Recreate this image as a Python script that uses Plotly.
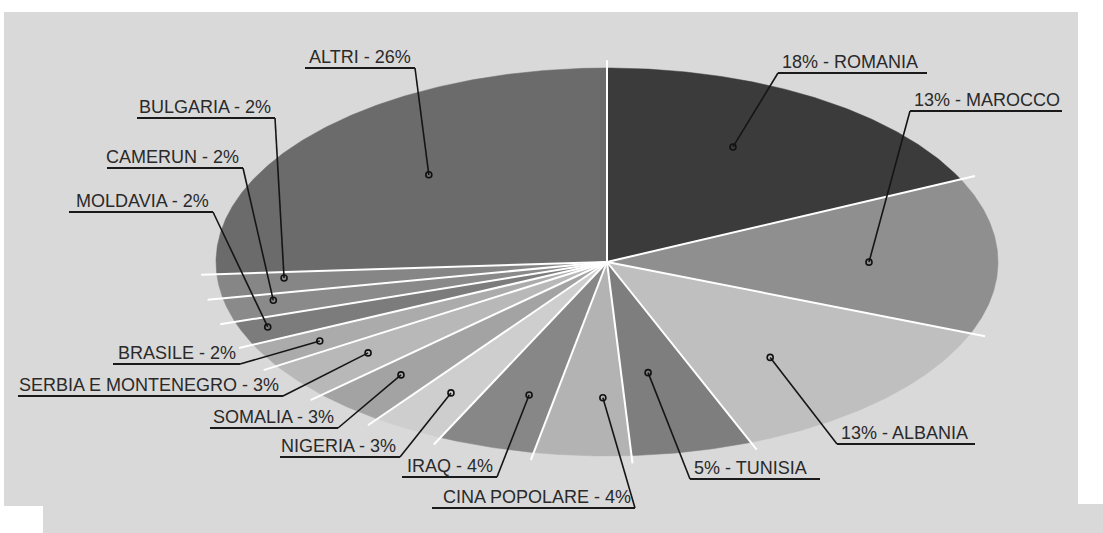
import numpy as np
import plotly.graph_objects as go

# ---- data ----
countries = ["ROMANIA", "MAROCCO", "ALBANIA", "TUNISIA", "CINA POPOLARE", "IRAQ",
             "NIGERIA", "SOMALIA", "SERBIA E MONTENEGRO", "BRASILE", "MOLDAVIA",
             "CAMERUN", "BULGARIA", "ALTRI"]
percent = [18, 13, 13, 5, 4, 4, 3, 3, 3, 2, 2, 2, 2, 26]

# ---- styling / layout parameters ----
slice_colors = ["#3b3b3b", "#8f8f8f", "#bfbfbf", "#7e7e7e", "#b3b3b3", "#878787",
                "#cecece", "#a3a3a3", "#b8b8b8", "#ababab", "#7c7c7c", "#8a8a8a",
                "#868686", "#6b6b6b"]
# label text placed to the right of elbow (True) or to the left (False)
label_right = [True, True, True, True, False, False, False, False, False, False,
               False, False, False, False]
# position of the dot inside each slice (fraction of slice angle, fraction of radius)
dot_frac = [0.44, 0.54, 0.60, 0.62, 0.31, 0.375, 0.5, 0.57, 0.53, 0.47, 0.57, 0.69, 0.71, 0.515]
dot_rad = [0.675, 0.67, 0.645, 0.58, 0.70, 0.714, 0.784, 0.785, 0.77, 0.84, 0.93, 0.876, 0.83, 0.64]
# underline: elbow x, far end x, y (pixel layout)
ul_elbow = [778, 910, 837, 690, 635, 497, 400, 338, 283, 240, 213, 243, 275, 415]
ul_far = [927, 1062, 975, 820, 432, 402, 280, 210, 18, 113, 69, 107, 137, 305]
ul_y = [73, 111, 444, 479, 508, 477, 457, 428, 396, 364, 212, 168, 118, 68]

W, H = 1103, 533
cx, cy, ra, rb = 607, 262, 391, 194


def ell(theta_deg, r=1.0):
    t = np.radians(theta_deg)
    return cx + ra * r * np.sin(t), cy - rb * r * np.cos(t)


fig = go.Figure()

# slices
cum = np.concatenate([[0], np.cumsum(percent)]) / sum(percent) * 360.0
for i, c in enumerate(countries):
    a0, a1 = cum[i], cum[i + 1]
    n = max(int((a1 - a0) * 2), 4)
    th = np.linspace(a0, a1, n)
    xs, ys = ell(th)
    xs = np.concatenate([[cx], xs, [cx]])
    ys = np.concatenate([[cy], ys, [cy]])
    fig.add_trace(go.Scatter(x=xs, y=ys, mode="lines", fill="toself",
                             fillcolor=slice_colors[i], line=dict(width=0.5, color=slice_colors[i]),
                             hoverinfo="text", text=f"{c}: {percent[i]}%", showlegend=False))

# white separators
sx, sy = [], []
for a in cum[:-1]:
    ex, ey = ell(a, 1.04)
    sx += [cx, ex, None]
    sy += [cy, ey, None]
fig.add_trace(go.Scatter(x=sx, y=sy, mode="lines", line=dict(color="white", width=2),
                         hoverinfo="skip", showlegend=False))

# leaders, underlines, dots, text
lx, ly, ux, uy, dx, dy = [], [], [], [], [], []
annotations = []
for i, c in enumerate(countries):
    a0, a1 = cum[i], cum[i + 1]
    px, py = ell(a0 + (a1 - a0) * dot_frac[i], dot_rad[i])
    dx.append(px)
    dy.append(py)
    lx += [px, ul_elbow[i], None]
    ly += [py, ul_y[i], None]
    ux += [ul_elbow[i], ul_far[i], None]
    uy += [ul_y[i], ul_y[i], None]
    if label_right[i]:
        txt = f"{percent[i]}% - {c}"
        annotations.append(dict(x=ul_elbow[i] + 3, y=ul_y[i] - 0.5, xref="x", yref="y",
                                text=txt, showarrow=False, xanchor="left", yanchor="bottom",
                                borderpad=0,
                                font=dict(family="Liberation Sans, Arial", size=18, color="#2a2a2a")))
    else:
        txt = f"{c} - {percent[i]}%"
        annotations.append(dict(x=ul_elbow[i] - 3, y=ul_y[i] - 0.5, xref="x", yref="y",
                                text=txt, showarrow=False, xanchor="right", yanchor="bottom",
                                borderpad=0,
                                font=dict(family="Liberation Sans, Arial", size=18, color="#2a2a2a")))

fig.add_trace(go.Scatter(x=lx, y=ly, mode="lines", line=dict(color="#151515", width=1.6),
                         hoverinfo="skip", showlegend=False))
fig.add_trace(go.Scatter(x=ux, y=uy, mode="lines", line=dict(color="#1a1a1a", width=2.2),
                         hoverinfo="skip", showlegend=False))
fig.add_trace(go.Scatter(x=dx, y=dy, mode="markers",
                         marker=dict(symbol="circle-open", size=6, color="#111111",
                                     line=dict(width=1.6, color="#111111")),
                         hoverinfo="skip", showlegend=False))

shapes = [
    dict(type="rect", xref="x", yref="y", x0=4, x1=1078, y0=12, y1=506,
         fillcolor="#d9d9d9", line=dict(width=0), layer="below"),
    dict(type="rect", xref="x", yref="y", x0=43, x1=1103, y0=504, y1=533,
         fillcolor="#d9d9d9", line=dict(width=0), layer="below"),
]

fig.update_layout(
    width=W, height=H,
    margin=dict(l=0, r=0, t=0, b=0),
    paper_bgcolor="white", plot_bgcolor="white",
    xaxis=dict(range=[0, W], visible=False, fixedrange=True),
    yaxis=dict(range=[H, 0], visible=False, fixedrange=True),
    shapes=shapes,
    annotations=annotations,
    showlegend=False,
)

fig.write_html("out.html", config={"displayModeBar": False},
               post_script="document.body.style.margin='0';document.body.style.overflow='hidden';")
